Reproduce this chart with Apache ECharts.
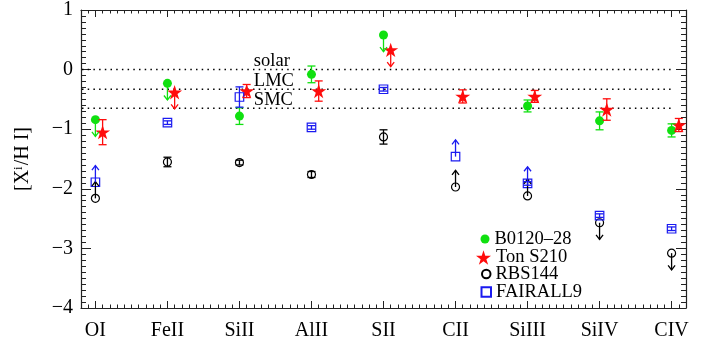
<!DOCTYPE html>
<html>
<head>
<meta charset="utf-8">
<script src="https://cdn.jsdelivr.net/npm/echarts@6/dist/echarts.min.js"></script>
<style>
html, body { margin: 0; padding: 0; background: #fff; }
#chart { width: 704px; height: 341px; }
</style>
</head>
<body>
<div id="chart"></div>
<script>
// Ions along the x axis (placed at positions 1..9)
const categories = ['OI', 'FeII', 'SiII', 'AlII', 'SII', 'CII', 'SiIII', 'SiIV', 'CIV'];
const categoryPositions = [1, 2, 3, 4, 5, 6, 7, 8, 9];
const yTickValues = [-4, -3, -2, -1, 0, 1];

// Reference abundance levels
const refLevels = [0, -0.33, -0.65];
const refNames = ['solar', 'LMC', 'SMC'];

// Limit codes: 1 = lower limit (arrow up), -1 = upper limit (arrow down), 0 = detection
// B0120–28
const b0120Values = [-0.84, -0.23, -0.78, -0.08, 0.58, null, -0.61, -0.86, -1.02];
const b0120Errors = [0, 0, 0.14, 0.14, 0, 0, 0.10, 0.15, 0.11];
const b0120Limits = [-1, -1, 0, 0, -1, 0, 0, 0, 0];
// Ton S210
const tonValues = [-1.05, -0.38, -0.36, -0.36, 0.33, -0.45, -0.45, -0.67, -0.93];
const tonErrors = [0.21, 0, 0.11, 0.17, 0, 0.11, 0.10, 0.18, 0.11];
const tonLimits = [0, -1, 0, 0, -1, 0, 0, 0, 0];
// RBS144
const rbsValues = [-2.16, -1.55, -1.56, -1.76, -1.13, -1.97, -2.12, -2.57, -3.08];
const rbsErrors = [0, 0.08, 0.04, 0.05, 0.12, 0, 0, 0, 0];
const rbsLimits = [1, 0, 0, 0, 0, 1, 1, -1, -1];
// FAIRALL9
const fairValues = [-1.89, -0.89, -0.46, -0.97, -0.33, -1.46, -1.91, -2.45, -2.67];
const fairErrors = [0, 0.03, 0.17, 0.03, 0.03, 0, 0.03, 0.03, 0.03];
const fairLimits = [1, 0, 0, 0, 0, 1, 1, 0, 0];

const X_MIN = 0.8, X_MAX = 9.2;
const STAR_SHIFT = 0.1;      // Ton S210 points drawn slightly right of the ion position
const ARROW_LEN = 0.28;      // limit arrow length in dex
const LABEL_X = 3.2;         // x position of the solar/LMC/SMC labels

const FONT = "'Liberation Serif', 'Times New Roman', serif";
const AXIS_COLOR = '#222';
const GREEN = '#10e010', RED = '#ff0c0c', BLACK = '#000', BLUE = '#1a1af0';

const STAR = 'path://M0,-10L2.245,-3.09L9.51,-3.09L3.633,1.18L5.88,8.09L0,3.82L-5.88,8.09L-3.633,1.18L-9.51,-3.09L-2.245,-3.09Z';

const minorX = [];
for (let i = 0; i <= 84; i++) minorX.push(Math.round((X_MIN + i * 0.1) * 100) / 100);

function points(values, shift) {
  const out = [];
  values.forEach((v, i) => { if (v !== null) out.push([categoryPositions[i] + shift, v]); });
  return out;
}
function bars(values, errors, limits, shift) {
  const out = [];
  values.forEach((v, i) => {
    if (v !== null) out.push([categoryPositions[i] + shift, v, errors[i], limits[i]]);
  });
  return out;
}

function renderBars(color) {
  return function (params, api) {
    const x = api.value(0), y = api.value(1), err = api.value(2), dir = api.value(3);
    const c = api.coord([x, y]);
    const style = { stroke: color, lineWidth: 1.3, fill: null };
    const children = [];
    if (err > 0) {
      const top = api.coord([x, y + err]);
      const bot = api.coord([x, y - err]);
      children.push({ type: 'line', shape: { x1: c[0], y1: top[1], x2: c[0], y2: bot[1] }, style });
      children.push({ type: 'line', shape: { x1: c[0] - 4, y1: top[1], x2: c[0] + 4, y2: top[1] }, style });
      children.push({ type: 'line', shape: { x1: c[0] - 4, y1: bot[1], x2: c[0] + 4, y2: bot[1] }, style });
    }
    if (dir !== 0) {
      const tip = api.coord([x, y + dir * ARROW_LEN]);
      children.push({ type: 'line', shape: { x1: c[0], y1: c[1], x2: tip[0], y2: tip[1] }, style });
      children.push({
        type: 'polyline',
        shape: { points: [[tip[0] - 3.5, tip[1] + dir * 4.5], [tip[0], tip[1]], [tip[0] + 3.5, tip[1] + dir * 4.5]] },
        style
      });
    }
    return { type: 'group', children };
  };
}

function renderRefs(params, api) {
  const level = api.value(1);
  const a = api.coord([X_MIN, level]);
  const b = api.coord([X_MAX, level]);
  const t = api.coord([LABEL_X, level]);
  return {
    type: 'group',
    children: [
      { type: 'line', shape: { x1: a[0] + 1, y1: a[1], x2: b[0] - 12, y2: b[1] },
        style: { stroke: '#000', lineWidth: 1.5, lineDash: [1.5, 4.2] } },
      { type: 'text', x: t[0], y: t[1] - 8.5,
        style: { text: refNames[params.dataIndex], fill: '#000', font: '18.5px ' + FONT,
                 align: 'left', verticalAlign: 'middle' } }
    ]
  };
}

const sources = [
  { name: 'B0120–28', values: b0120Values, errors: b0120Errors, limits: b0120Limits, shift: 0,
    color: GREEN, symbol: 'circle', size: 9, itemStyle: { color: GREEN, opacity: 1 } },
  { name: 'Ton S210', values: tonValues, errors: tonErrors, limits: tonLimits, shift: STAR_SHIFT,
    color: RED, symbol: STAR, size: [15, 14.3], itemStyle: { color: RED, opacity: 1 } },
  { name: 'RBS144', values: rbsValues, errors: rbsErrors, limits: rbsLimits, shift: 0,
    color: BLACK, symbol: 'circle', size: 8, itemStyle: { color: 'rgba(0,0,0,0)', borderColor: BLACK, borderWidth: 1.2, opacity: 1 } },
  { name: 'FAIRALL9', values: fairValues, errors: fairErrors, limits: fairLimits, shift: 0,
    color: BLUE, symbol: 'rect', size: 8.5, itemStyle: { color: 'rgba(0,0,0,0)', borderColor: BLUE, borderWidth: 1.2, opacity: 1 } }
];

const series = [{
  type: 'custom',
  name: 'levels',
  renderItem: renderRefs,
  data: refLevels.map(v => [LABEL_X, v]),
  encode: { x: 0, y: 1 },
  silent: true,
  z: 1
}];
sources.forEach(s => {
  series.push({
    type: 'scatter', name: s.name, data: points(s.values, s.shift),
    symbol: s.symbol, symbolSize: s.size, itemStyle: s.itemStyle, z: 2
  });
  series.push({
    type: 'custom', name: s.name + ' bars', renderItem: renderBars(s.color),
    data: bars(s.values, s.errors, s.limits, s.shift), encode: { x: 0, y: 1 }, z: 3
  });
});

// One legend per row so each icon keeps its own size
const legendRows = [
  { name: 'B0120–28', top: 229.5, left: 480.5, w: 9, h: 9 },
  { name: 'Ton S210', top: 248, left: 476, w: 15, h: 14.3 },
  { name: 'RBS144', top: 264.5, left: 481, w: 8.5, h: 8.5 },
  { name: 'FAIRALL9', top: 282.5, left: 480.5, w: 9.5, h: 9.5 }
];
const legends = legendRows.map(r => ({
  data: [r.name], orient: 'vertical', left: r.left, top: r.top, padding: 0,
  itemWidth: r.w, itemHeight: r.h, itemGap: 0, selectedMode: false,
  textStyle: { fontFamily: FONT, fontSize: 18.5, color: '#000', padding: [0, 0, 0, 0] }
}));

const tickStyle = { color: AXIS_COLOR, width: 1 };
const lineStyle = { color: AXIS_COLOR, width: 1.2 };
function xAxisDef(position, major, showLine, showLabel) {
  return {
    type: 'value', position, min: X_MIN, max: X_MAX,
    axisLine: { show: showLine, onZero: false, lineStyle },
    splitLine: { show: false },
    axisTick: { show: true, inside: true, length: major ? 7 : 3.5, lineStyle: tickStyle,
                customValues: major ? categoryPositions : minorX },
    axisLabel: showLabel ? {
      show: true, margin: 13, customValues: categoryPositions,
      fontFamily: FONT, fontSize: 20, color: '#000',
      formatter: v => categories[Math.round(v) - 1]
    } : { show: false }
  };
}
function yAxisDef(position, showLabel) {
  const ax = {
    type: 'value', position, min: -4, max: 1, interval: 1,
    axisLine: { show: true, onZero: false, lineStyle },
    splitLine: { show: false },
    axisTick: { show: true, inside: true, length: 10, lineStyle: tickStyle },
    minorTick: { show: true, splitNumber: 10, length: 5, lineStyle: tickStyle },
    axisLabel: showLabel ? {
      show: true, margin: 8, fontFamily: FONT, fontSize: 20, color: '#000',
      customValues: yTickValues,
      formatter: v => String(v).replace('-', '\u2212')
    } : { show: false }
  };
  if (showLabel) {
    ax.name = '[X{sup|i}/H I]';
    ax.nameLocation = 'middle';
    ax.nameRotate = 90;
    ax.nameGap = 48;
    ax.nameTextStyle = {
      fontFamily: FONT, fontSize: 20, color: '#000',
      rich: { sup: { fontFamily: FONT, fontSize: 13, color: '#000', verticalAlign: 'top', padding: [0, 1, 8, 0] } }
    };
  }
  return ax;
}

const chart = echarts.init(document.getElementById('chart'), null, { renderer: 'canvas' });
chart.setOption({
  animation: false,
  backgroundColor: '#fff',
  grid: { left: 81, right: 18, top: 7, bottom: 30 },
  xAxis: [
    xAxisDef('bottom', true, true, true),
    xAxisDef('bottom', false, false, false),
    xAxisDef('top', true, true, false),
    xAxisDef('top', false, false, false)
  ],
  yAxis: [yAxisDef('left', true), yAxisDef('right', false)],
  legend: legends,
  series
});
</script>
</body>
</html>
